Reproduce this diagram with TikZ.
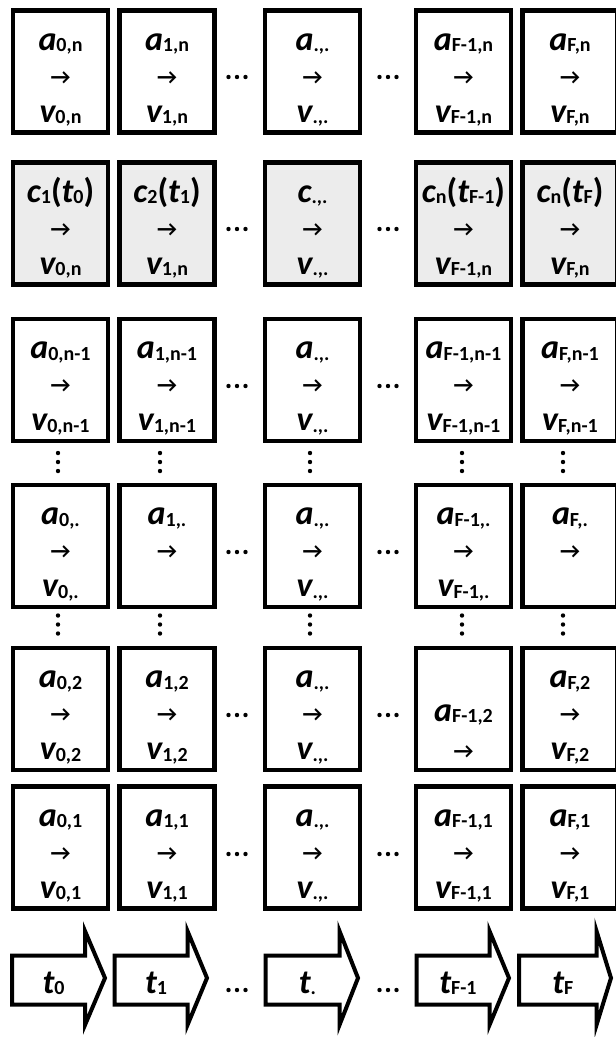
\documentclass[tikz,border=0pt]{standalone}
\usepackage{fontspec}
\setmainfont{Carlito}
\newcommand\mainsz{\fontsize{34}{34}\selectfont}
\newcommand\subsz{\fontsize{20}{20}\selectfont}
\newcommand\arrsz{\fontsize{22}{22}\selectfont}
% italic bold letter with upright bold subscript
\newcommand\qv[2]{{\bfseries\itshape #1}{\subsz\bfseries\upshape\raisebox{-1.8pt}{#2}}}
\newcommand\cpar[3]{\qv{#1}{#2}{\bfseries\upshape(}\qv{t}{#3}{\bfseries\upshape)}}
\tikzset{
  cell/.style={draw=black, line width=4.5pt, fill=white, minimum width=95pt, minimum height=122pt, inner sep=0pt, outer sep=0pt},
  graycell/.style={cell, fill=gray!15},
  lbl/.style={anchor=base, inner sep=0pt, font=\mainsz\bfseries},
  arr/.style={anchor=center, inner sep=0pt, font=\arrsz\bfseries},
  tarrow/.style={draw=black, line width=4pt, fill=white, line join=miter},
  dotc/.style={circle, fill=black, draw=none, inner sep=0pt, minimum size=4.4pt},
}
% full cell: name, x, y, style, top text, bottom text
\newcommand\fcell[6]{%
  \node[#4] (#1) at (#2,#3) {};
  \node[lbl] (#1a) at ([yshift=-39.5pt]#1.north) {#5};
  \node[arr] (#1r) at ([yshift=-67.5pt]#1.north) {→};
  \node[lbl] (#1v) at ([yshift=-111.5pt]#1.north) {#6};
}
% cell without bottom text
\newcommand\hcell[5]{%
  \node[#4] (#1) at (#2,#3) {};
  \node[lbl] (#1a) at ([yshift=-39.5pt]#1.north) {#5};
  \node[arr] (#1r) at ([yshift=-67.5pt]#1.north) {→};
}
% horizontal ellipsis: name, x, y
\newcommand\hdots[3]{%
  \node[dotc] (#1a) at (#2-8.5,#3) {};
  \node[dotc] (#1b) at (#2,#3) {};
  \node[dotc] (#1c) at (#2+8.5,#3) {};
}
% vertical ellipsis: name, x, y(top)
\newcommand\vdotsq[3]{%
  \node[dotc] (#1a) at (#2,#3) {};
  \node[dotc] (#1b) at (#2,#3+9) {};
  \node[dotc] (#1c) at (#2,#3+18) {};
}
% time arrow: name, left, head base, tip, label
\newcommand\tarr[5]{%
  \draw[tarrow] (#2,955.5) -- (#3,955.5) -- (#3,931) -- (#4,978) -- (#3,1025) -- (#3,1004.5) -- (#2,1004.5) -- cycle;
  \node[lbl] (#1) at ({(#2+#3)/2+5},993) {#5};
}
\begin{document}
\begin{tikzpicture}[x=1pt, y=-1pt]
\useasboundingbox (0,0) rectangle (616,1037);
\clip (0,0) rectangle (616,1037);
\fill[white] (0,0) rectangle (616,1037);
% column centres: 60.5, 167, 312.5, 463.5, 570
% row 1
\fcell{r1c1}{60.5}{71.5}{cell}{\qv{a}{0,n}}{\qv{v}{0,n}}
\fcell{r1c2}{167}{71.5}{cell}{\qv{a}{1,n}}{\qv{v}{1,n}}
\fcell{r1c3}{312.5}{71.5}{cell}{\qv{a}{.,.}}{\qv{v}{.,.}}
\fcell{r1c4}{463.5}{71.5}{cell}{\qv{a}{F-1,n}}{\qv{v}{F-1,n}}
\fcell{r1c5}{570}{71.5}{cell}{\qv{a}{F,n}}{\qv{v}{F,n}}
% row 2 (grey)
\fcell{r2c1}{60.5}{223.5}{graycell}{\cpar{c}{1}{0}}{\qv{v}{0,n}}
\fcell{r2c2}{167}{223.5}{graycell}{\cpar{c}{2}{1}}{\qv{v}{1,n}}
\fcell{r2c3}{312.5}{223.5}{graycell}{\qv{c}{.,.}}{\qv{v}{.,.}}
\fcell{r2c4}{463.5}{223.5}{graycell}{\cpar{c}{n}{F-1}}{\qv{v}{F-1,n}}
\fcell{r2c5}{570}{223.5}{graycell}{\cpar{c}{n}{F}}{\qv{v}{F,n}}
% row 3
\fcell{r3c1}{60.5}{380}{cell}{\qv{a}{0,n-1}}{\qv{v}{0,n-1}}
\fcell{r3c2}{167}{380}{cell}{\qv{a}{1,n-1}}{\qv{v}{1,n-1}}
\fcell{r3c3}{312.5}{380}{cell}{\qv{a}{.,.}}{\qv{v}{.,.}}
\fcell{r3c4}{463.5}{380}{cell}{\qv{a}{F-1,n-1}}{\qv{v}{F-1,n-1}}
\fcell{r3c5}{570}{380}{cell}{\qv{a}{F,n-1}}{\qv{v}{F,n-1}}
% row 4
\fcell{r4c1}{60.5}{546}{cell}{\qv{a}{0,.}}{\qv{v}{0,.}}
\hcell{r4c2}{167}{546}{cell}{\qv{a}{1,.}}
\fcell{r4c3}{312.5}{546}{cell}{\qv{a}{.,.}}{\qv{v}{.,.}}
\fcell{r4c4}{463.5}{546}{cell}{\qv{a}{F-1,.}}{\qv{v}{F-1,.}}
\hcell{r4c5}{570}{546}{cell}{\qv{a}{F,.}}
% row 5
\fcell{r5c1}{60.5}{709}{cell}{\qv{a}{0,2}}{\qv{v}{0,2}}
\fcell{r5c2}{167}{709}{cell}{\qv{a}{1,2}}{\qv{v}{1,2}}
\fcell{r5c3}{312.5}{709}{cell}{\qv{a}{.,.}}{\qv{v}{.,.}}
\node[cell] (r5c4) at (463.5,709) {};
\node[lbl] (r5c4a) at ([yshift=-73pt]r5c4.north) {\qv{a}{F-1,2}};
\node[arr] (r5c4r) at ([yshift=-104pt]r5c4.north) {→};
\fcell{r5c5}{570}{709}{cell}{\qv{a}{F,2}}{\qv{v}{F,2}}
% row 6
\fcell{r6c1}{60.5}{847.5}{cell}{\qv{a}{0,1}}{\qv{v}{0,1}}
\fcell{r6c2}{167}{847.5}{cell}{\qv{a}{1,1}}{\qv{v}{1,1}}
\fcell{r6c3}{312.5}{847.5}{cell}{\qv{a}{.,.}}{\qv{v}{.,.}}
\fcell{r6c4}{463.5}{847.5}{cell}{\qv{a}{F-1,1}}{\qv{v}{F-1,1}}
\fcell{r6c5}{570}{847.5}{cell}{\qv{a}{F,1}}{\qv{v}{F,1}}
% horizontal ellipses
\foreach \r/\yy in {1/77, 2/229, 3/386, 4/552, 5/715, 6/854, 7/990} {
  \hdots{hl\r}{237}{\yy}
  \hdots{hr\r}{388}{\yy}
}
% vertical ellipses
\foreach \c/\xx in {1/58, 2/160, 3/310, 4/462, 5/563} {
  \vdotsq{va\c}{\xx}{453}
  \vdotsq{vb\c}{\xx}{615.5}
}
% time arrows
\tarr{t0}{12}{85}{105}{\qv{t}{0}}
\tarr{t1}{114.5}{187.5}{207}{\qv{t}{1}}
\tarr{t2}{265.5}{339.5}{358}{\qv{t}{.}}
\tarr{t3}{416.5}{489.5}{509}{\qv{t}{F-1}}
\tarr{t4}{519}{596.5}{611}{\qv{t}{F}}
\end{tikzpicture}
\end{document}
